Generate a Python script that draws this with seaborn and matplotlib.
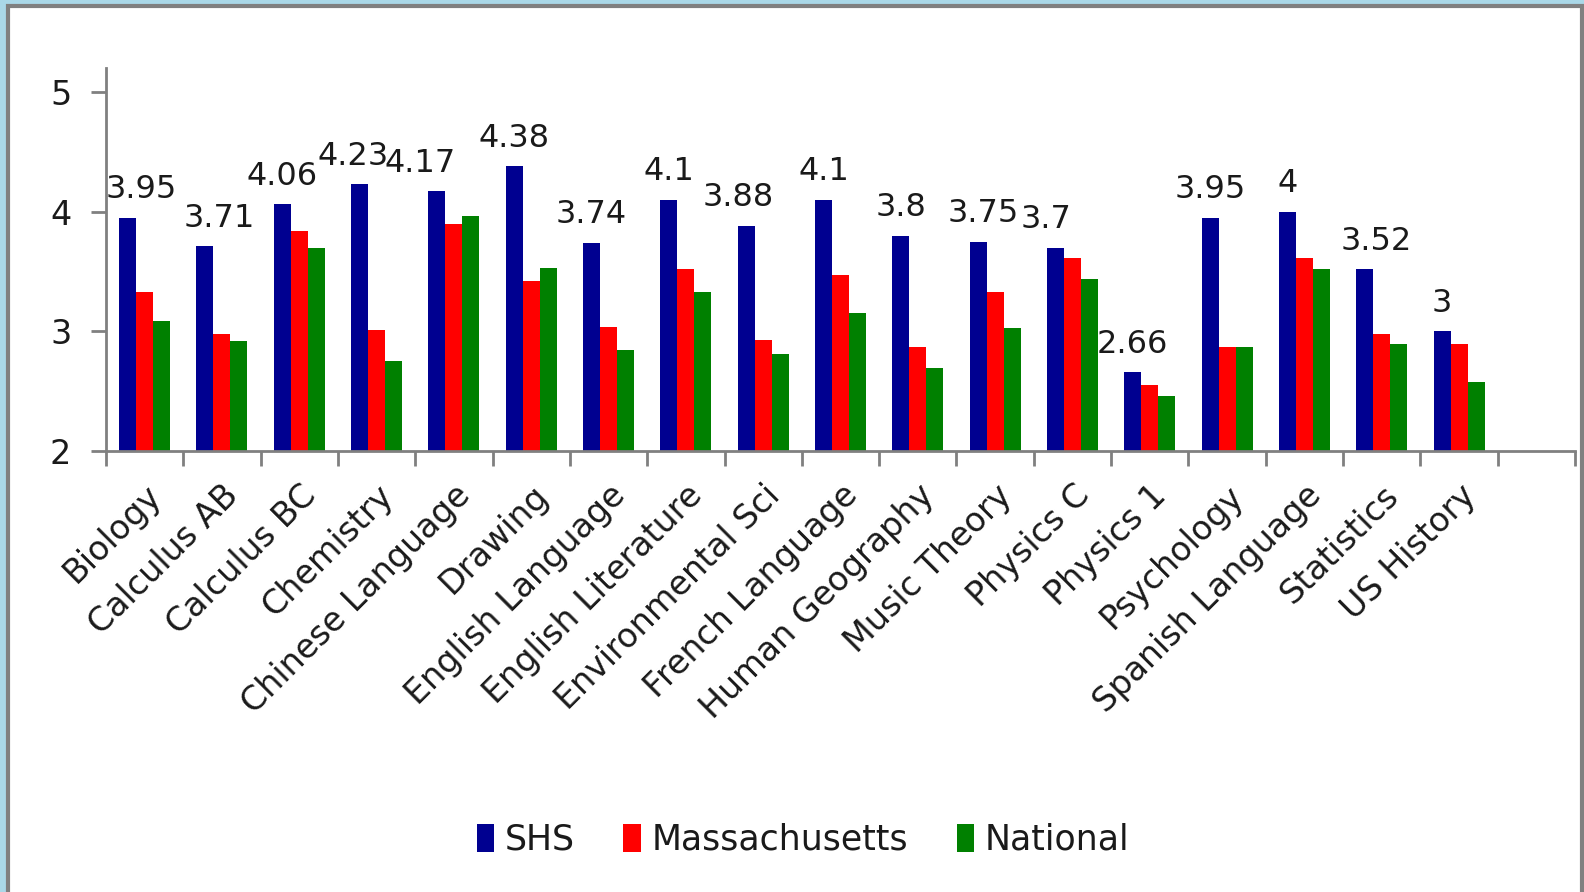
import numpy as np
import pandas as pd
import matplotlib
matplotlib.use("Agg")
import matplotlib.pyplot as plt
from matplotlib.patches import Rectangle
import seaborn as sns

subjects = ["Biology", "Calculus AB", "Calculus BC", "Chemistry", "Chinese Language",
            "Drawing", "English Language", "English Literature", "Environmental Sci",
            "French Language", "Human Geography", "Music Theory", "Physics C",
            "Physics 1", "Psychology", "Spanish Language", "Statistics", "US History"]
shs = [3.95, 3.71, 4.06, 4.23, 4.17, 4.38, 3.74, 4.1, 3.88, 4.1, 3.8, 3.75, 3.7,
       2.66, 3.95, 4, 3.52, 3]
massachusetts = [3.33, 2.98, 3.84, 3.01, 3.90, 3.42, 3.04, 3.52, 2.93, 3.47, 2.87, 3.33, 3.61,
                 2.55, 2.87, 3.61, 2.98, 2.89]
national = [3.09, 2.92, 3.70, 2.75, 3.96, 3.53, 2.84, 3.33, 2.81, 3.15, 2.69, 3.03, 3.44,
            2.46, 2.87, 3.52, 2.89, 2.58]
groups = ["SHS", "Massachusetts", "National"]
shs_labels = ["3.95", "3.71", "4.06", "4.23", "4.17", "4.38", "3.74", "4.1", "3.88", "4.1",
              "3.8", "3.75", "3.7", "2.66", "3.95", "4", "3.52", "3"]

df = pd.DataFrame({"Subject": subjects * 3,
                   "Group": [g for g in groups for _ in subjects],
                   "Score": shs + massachusetts + national})

colors = {"SHS": "#000090", "Massachusetts": "#ff0000", "National": "#008000"}

sns.set_style("white")
plt.rcParams["font.family"] = ["DejaVu Sans"]

fig = plt.figure(figsize=(15.84, 8.92), dpi=100, facecolor="#aad8e8")
# white chart area with grey frame, behind the axes
frame = Rectangle((8 / 1584, -0.05), 1574 / 1584, 1.05 - 6 / 892,
                  transform=fig.transFigure, facecolor="white",
                  edgecolor="#808080", linewidth=3, zorder=-10)
fig.patches.append(frame)

ax = fig.add_axes([106 / 1584, 1 - 451 / 892, (1575 - 106) / 1584, 383 / 892])
ax.patch.set_alpha(0)
ax.set_zorder(1)

sns.barplot(data=df, x="Subject", y="Score", hue="Group", order=subjects,
            hue_order=groups, palette=colors, width=0.66, saturation=1,
            errorbar=None, ax=ax, legend=True, linewidth=0)

ax.set_ylim(2, 5.2)
ax.set_xlim(-0.5, 18.5)
ax.set_yticks([2, 3, 4, 5])
ax.set_xlabel("")
ax.set_ylabel("")

# value labels above SHS bars (nudged where they crowd, as in the original)
nudge = {"Biology": 10, "Calculus AB": 10, "Chemistry": -5, "Chinese Language": -12,
         "Environmental Sci": -6, "Music Theory": 4, "Physics C": -7, "Statistics": 8}
for i, (v, t) in enumerate(zip(shs, shs_labels)):
    bar = ax.containers[0][i]
    xc = bar.get_x() + bar.get_width() / 2
    ax.annotate(t, (xc, v), xytext=(nudge.get(subjects[i], 0), 9),
                textcoords="offset points", ha="center", va="bottom",
                fontsize=23, color="#1a1a1a")

for s in ["top", "right"]:
    ax.spines[s].set_visible(False)
for s in ["left", "bottom"]:
    ax.spines[s].set_color("#808080")
    ax.spines[s].set_linewidth(2)

ax.tick_params(axis="y", which="major", length=11, width=2, color="#808080",
               labelsize=24, pad=14, left=True, labelcolor="#1a1a1a")
ax.set_xticks(np.arange(-0.5, 19, 1), minor=True)
ax.tick_params(axis="x", which="minor", length=11, width=2, color="#808080", bottom=True)
ax.tick_params(axis="x", which="major", length=0, pad=20)
ax.set_xticks(range(len(subjects)))
ax.set_xticklabels(subjects, rotation=45, ha="right", rotation_mode="anchor",
                   fontsize=24, color="#1a1a1a")

leg = ax.legend(loc="center", bbox_to_anchor=(803 / 1584, 1 - 840 / 892),
                bbox_transform=fig.transFigure, ncol=3, frameon=False,
                fontsize=25, handlelength=0.5, handleheight=0.9,
                handletextpad=0.3, columnspacing=1.4)
for t in leg.get_texts():
    t.set_color("#1a1a1a")

fig.savefig("out.png", dpi=100, facecolor=fig.get_facecolor())
